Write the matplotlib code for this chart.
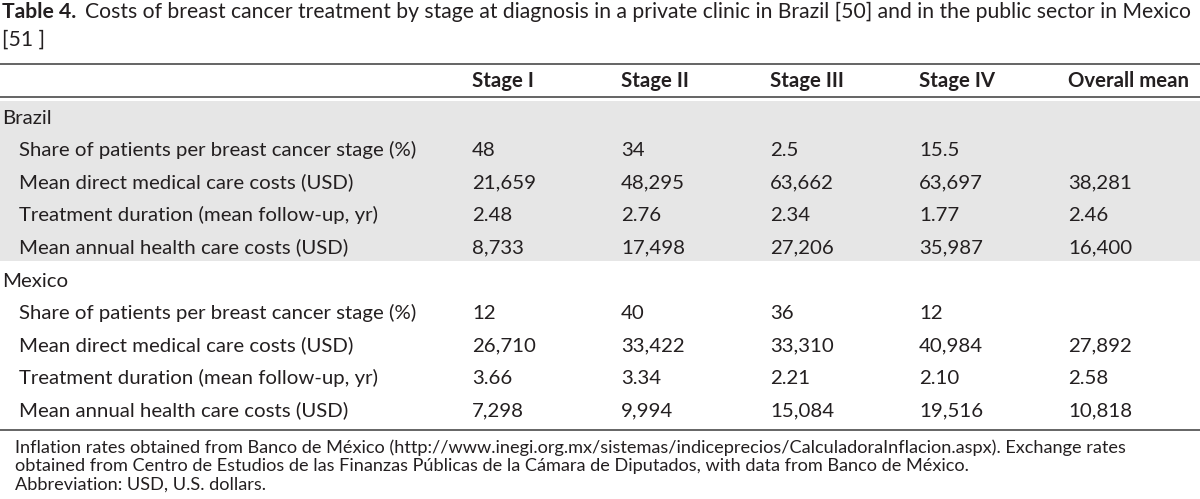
import matplotlib
matplotlib.use("Agg")
import matplotlib.pyplot as plt
from matplotlib.patches import Rectangle

# ---------------- data ----------------
title_bold = "Table 4."
title_line1 = "Costs of breast cancer treatment by stage at diagnosis in a private clinic in Brazil [50] and in the public sector in Mexico"
title_line2 = "[51 ]"

columns = ["Stage I", "Stage II", "Stage III", "Stage IV", "Overall mean"]
groups = ["Brazil", "Mexico"]
row_labels = [
    "Share of patients per breast cancer stage (%)",
    "Mean direct medical care costs (USD)",
    "Treatment duration (mean follow-up, yr)",
    "Mean annual health care costs (USD)",
]

brazil_share = [48, 34, 2.5, 15.5, None]
brazil_direct = [21659, 48295, 63662, 63697, 38281]
brazil_duration = [2.48, 2.76, 2.34, 1.77, 2.46]
brazil_annual = [8733, 17498, 27206, 35987, 16400]

mexico_share = [12, 40, 36, 12, None]
mexico_direct = [26710, 33422, 33310, 40984, 27892]
mexico_duration = [3.66, 3.34, 2.21, 2.10, 2.58]
mexico_annual = [7298, 9994, 15084, 19516, 10818]

footnotes = [
    "Inflation rates obtained from Banco de México (http://www.inegi.org.mx/sistemas/indiceprecios/CalculadoraInflacion.aspx). Exchange rates",
    "obtained from Centro de Estudios de las Finanzas Públicas de la Cámara de Diputados, with data from Banco de México.",
    "Abbreviation: USD, U.S. dollars.",
]

# ---------------- formatting ----------------
def fmt_share(v):
    return "" if v is None else f"{v:g}"

def fmt_cost(v):
    return "" if v is None else f"{v:,}"

def fmt_dur(v):
    return "" if v is None else f"{v:.2f}"

table = {
    "Brazil": [
        [fmt_share(v) for v in brazil_share],
        [fmt_cost(v) for v in brazil_direct],
        [fmt_dur(v) for v in brazil_duration],
        [fmt_cost(v) for v in brazil_annual],
    ],
    "Mexico": [
        [fmt_share(v) for v in mexico_share],
        [fmt_cost(v) for v in mexico_direct],
        [fmt_dur(v) for v in mexico_duration],
        [fmt_cost(v) for v in mexico_annual],
    ],
}

# ---------------- layout ----------------
W, H = 1200, 499
fig = plt.figure(figsize=(W / 100, H / 100), dpi=100)
ax = fig.add_axes([0, 0, 1, 1])
ax.set_xlim(0, W)
ax.set_ylim(H, 0)
ax.axis("off")

FONT = "Lato"
TXT = "#231f20"
RULE = "#3a3a3a"
GREY = "#e6e6e6"

fig.canvas.draw()
renderer = fig.canvas.get_renderer()

def text_width(text, fs, weight="normal"):
    t = ax.text(0, 0, text, fontsize=fs, family=FONT, weight=weight)
    w = t.get_window_extent(renderer).width
    t.remove()
    return w

def fit_size(text, target_px, weight="normal", base=14):
    return base * target_px / text_width(text, base, weight)

body_fs = fit_size(row_labels[0], 399)
foot_fs = fit_size(footnotes[0], 1120)

# title: bold part + gap + rest should span 2..1193
gap_px = 9
base = 14
w_tot = text_width(title_bold, base, "bold") + text_width(title_line1, base)
title_fs = base * (1191 - gap_px) / w_tot

col_x = [472, 621, 770, 919, 1068]
label_x = 19
group_x = 2

# title
tb = ax.text(2, 18, title_bold, fontsize=title_fs, family=FONT, weight="bold",
             color=TXT, va="baseline", ha="left")
bb = tb.get_window_extent(renderer)
ax.text(bb.x1 + gap_px, 18, title_line1, fontsize=title_fs, family=FONT, color=TXT,
        va="baseline", ha="left")
ax.text(2, 46, title_line2, fontsize=title_fs, family=FONT, color=TXT,
        va="baseline", ha="left")

# rules
for y in (64, 97, 430):
    ax.plot([0, W], [y, y], color=RULE, lw=1.1, solid_capstyle="butt")

# grey band for Brazil
ax.add_patch(Rectangle((0, 101), W, 160, facecolor=GREY, edgecolor="none", zorder=0))

# header
for x, c in zip(col_x, columns):
    ax.text(x, 87, c, fontsize=body_fs, family=FONT, weight="bold", color=TXT,
            va="baseline", ha="left")

# body
group_y = {"Brazil": 117, "Mexico": 280}
step = 32.3
for g in groups:
    y0 = group_y[g]
    ax.text(group_x, y0 + 7, g, fontsize=body_fs, family=FONT, color=TXT,
            va="baseline", ha="left")
    for i, (lab, vals) in enumerate(zip(row_labels, table[g])):
        y = y0 + step * (i + 1) + 7
        ax.text(label_x, y, lab, fontsize=body_fs, family=FONT, color=TXT,
                va="baseline", ha="left")
        for x, v in zip(col_x, vals):
            ax.text(x, y, v, fontsize=body_fs, family=FONT, color=TXT,
                    va="baseline", ha="left")

# footnotes
for i, f in enumerate(footnotes):
    ax.text(15, 453 + 18.5 * i, f, fontsize=foot_fs, family=FONT, color=TXT,
            va="baseline", ha="left")

fig.savefig("out.png", dpi=100)
